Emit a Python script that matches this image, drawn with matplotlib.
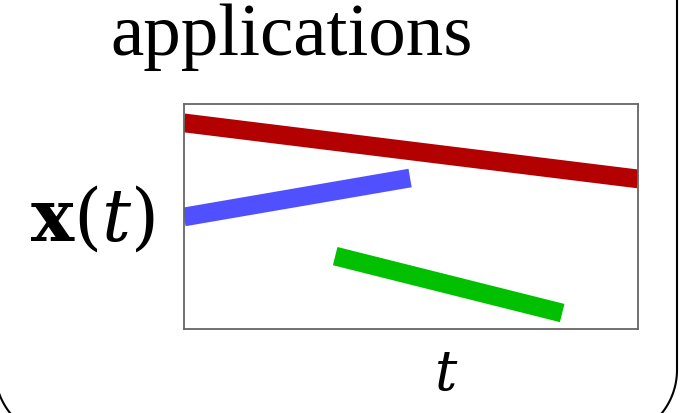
import numpy as np
import matplotlib.pyplot as plt

plt.rcParams['mathtext.fontset'] = 'dejavuserif'

# data (axes units 0..1)
red_t = [0.0, 1.0]
red_x = [0.916, 0.667]
blue_t = [0.0, 0.498]
blue_x = [0.498, 0.671]
green_t = [0.333, 0.833]
green_x = [0.324, 0.071]

W, H = 689, 413
fig = plt.figure(figsize=(W / 100, H / 100), dpi=100)

# background layer in pixel coords (y down) for the rounded frame
bg = fig.add_axes([0, 0, 1, 1])
bg.set_xlim(0, W)
bg.set_ylim(H, 0)
bg.axis('off')

# rounded box outline: left -5, right 677, bottom 439, radius 69
x0, x1, y1, r = -5, 677, 439, 69
th = np.linspace(0, np.pi / 2, 40)
right_corner_x = (x1 - r) + r * np.cos(th)
right_corner_y = (y1 - r) + r * np.sin(th)
left_corner_x = (x0 + r) - r * np.sin(th)
left_corner_y = (y1 - r) + r * np.cos(th)
bx = np.concatenate([[x1], right_corner_x, left_corner_x, [x0]])
by = np.concatenate([[-20], right_corner_y, left_corner_y, [-20]])
bg.plot(bx, by, color='black', lw=1.5, clip_on=False)

bg.text(292, 55, "applications", family='Liberation Serif', fontsize=54,
        ha='center', va='baseline')
bg.text(92, 220, r"$\mathbf{x}(t)$", fontsize=52, ha='center', va='center')
bg.text(446, 375, r"$t$", fontsize=40, ha='center', va='center')

ax = fig.add_axes([184 / W, 1 - 329 / H, (638 - 184) / W, (329 - 104) / H])
ax.plot(red_t, red_x, color='#b30000', lw=13.5, solid_capstyle='butt')
ax.plot(blue_t, blue_x, color='#5050ff', lw=13.5, solid_capstyle='butt')
ax.plot(green_t, green_x, color='#00c000', lw=13.5, solid_capstyle='butt')
ax.set_xlim(0, 1)
ax.set_ylim(0, 1)
ax.set_xticks([])
ax.set_yticks([])
for s in ax.spines.values():
    s.set_color('#666666')
    s.set_linewidth(1.3)

fig.savefig("out.png", dpi=100)
